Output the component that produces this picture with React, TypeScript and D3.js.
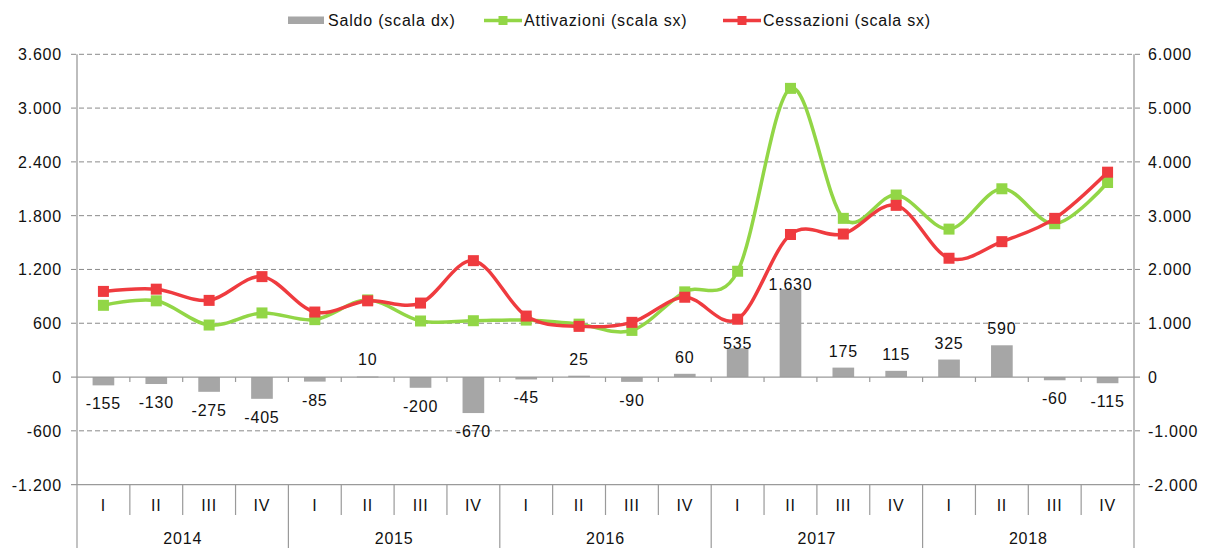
import { useEffect, useRef } from 'react'
import * as d3 from 'd3'

const years = ['2014', '2015', '2016', '2017', '2018']
const quarters = ['I', 'II', 'III', 'IV']

const attivazioni = [800, 850, 580, 715, 640, 860, 625, 628, 635, 590, 520, 950, 1180, 3220, 1770, 2030, 1650, 2100, 1710, 2170]
const cessazioni = [955, 980, 855, 1120, 725, 850, 825, 1298, 680, 565, 610, 890, 645, 1590, 1595, 1915, 1325, 1510, 1770, 2285]
const saldo = [-155, -130, -275, -405, -85, 10, -200, -670, -45, 25, -90, 60, 535, 1630, 175, 115, 325, 590, -60, -115]

const leftTicks = [-1200, -600, 0, 600, 1200, 1800, 2400, 3000, 3600]
const rightTicks = [-2000, -1000, 0, 1000, 2000, 3000, 4000, 5000, 6000]

// labels that Excel had pulled down onto the bar top
const loweredLabels = new Set(['2017-I', '2017-II'])

const GREEN = '#92d646'
const RED = '#ef3b3f'
const BAR = '#a6a6a6'
const AXIS = '#9a9a9a'
const FONT = '"Liberation Sans", Arial, Helvetica, sans-serif'

const fmt = (v: number) => {
  const s = Math.abs(v).toString().replace(/\B(?=(\d{3})+(?!\d))/g, '.')
  return (v < 0 ? '-' : '') + s
}

export default function App() {
  const svgRef = useRef<SVGSVGElement>(null)

  useEffect(() => {
    document.body.style.margin = '0'
    if (!svgRef.current) return
    const svg = d3.select(svgRef.current)
    svg.selectAll('*').remove()

    const left = 77, right = 1134, top = 54.3, bottom = 484.6

    const keys = years.flatMap(y => quarters.map(q => `${y}-${q}`))
    const x = d3.scaleBand<string>().domain(keys).range([left, right])
    const bw = x.bandwidth()
    const cx = (k: string) => (x(k) ?? 0) + bw / 2

    const yL = d3.scaleLinear().domain([-1200, 3600]).range([bottom, top])
    const yR = d3.scaleLinear().domain([-2000, 6000]).range([bottom, top])

    const g = svg.append('g')

    // gridlines
    leftTicks.forEach(t => {
      if (t === 0 || t === -1200) return
      g.append('line')
        .attr('x1', left - 6).attr('x2', right + 6)
        .attr('y1', yL(t)).attr('y2', yL(t))
        .attr('stroke', '#8a8a8a').attr('stroke-width', 1)
        .attr('stroke-dasharray', '5,3')
    })

    // bars
    saldo.forEach((v, i) => {
      const k = keys[i]
      const y0 = yR(0), y1 = yR(v)
      g.append('rect')
        .attr('x', cx(k) - bw * 0.205)
        .attr('y', Math.min(y0, y1))
        .attr('width', bw * 0.41)
        .attr('height', Math.max(1, Math.abs(y1 - y0)))
        .attr('fill', BAR)
    })

    // zero line + category ticks
    g.append('line')
      .attr('x1', left - 6).attr('x2', right + 6)
      .attr('y1', yL(0)).attr('y2', yL(0))
      .attr('stroke', AXIS).attr('stroke-width', 1.3)
    keys.forEach((k, i) => {
      if (i === 0) return
      const xx = x(k) ?? 0
      g.append('line')
        .attr('x1', xx).attr('x2', xx)
        .attr('y1', yL(0)).attr('y2', yL(0) + 5)
        .attr('stroke', AXIS).attr('stroke-width', 1.2)
    })

    // bottom axis
    g.append('line')
      .attr('x1', left - 6).attr('x2', right + 6)
      .attr('y1', bottom).attr('y2', bottom)
      .attr('stroke', AXIS).attr('stroke-width', 1.3)
    keys.forEach((k, i) => {
      const xx = x(k) ?? 0
      const isYear = i % 4 === 0
      g.append('line')
        .attr('x1', xx).attr('x2', xx)
        .attr('y1', bottom).attr('y2', isYear ? 548 : 515)
        .attr('stroke', AXIS).attr('stroke-width', 1.2)
    })
    g.append('line')
      .attr('x1', right).attr('x2', right)
      .attr('y1', bottom).attr('y2', 548)
      .attr('stroke', AXIS).attr('stroke-width', 1.2)

    // vertical axes
    ;[left, right].forEach(xx => {
      g.append('line')
        .attr('x1', xx).attr('x2', xx)
        .attr('y1', top).attr('y2', bottom)
        .attr('stroke', AXIS).attr('stroke-width', 1.3)
    })

    // axis labels
    leftTicks.forEach(t => {
      g.append('text')
        .attr('x', 62).attr('y', yL(t) + 6)
        .attr('text-anchor', 'end')
        .text(fmt(t))
    })
    rightTicks.forEach(t => {
      g.append('text')
        .attr('x', 1148).attr('y', yR(t) + 6)
        .attr('text-anchor', 'start')
        .text(fmt(t))
    })
    keys.forEach((k, i) => {
      g.append('text')
        .attr('x', cx(k)).attr('y', 511)
        .attr('text-anchor', 'middle')
        .text(quarters[i % 4])
    })
    years.forEach((yr, j) => {
      const x0 = x(keys[j * 4]) ?? 0
      g.append('text')
        .attr('x', x0 + bw * 2).attr('y', 544)
        .attr('text-anchor', 'middle')
        .text(yr)
    })

    // lines
    const line = d3.line<number>()
      .x((_, i) => cx(keys[i]))
      .y(d => yL(d))
      .curve(d3.curveCardinal.tension(0))

    const drawSeries = (vals: number[], color: string) => {
      g.append('path')
        .attr('d', line(vals))
        .attr('fill', 'none')
        .attr('stroke', color)
        .attr('stroke-width', 3.5)
      vals.forEach((v, i) => {
        g.append('rect')
          .attr('x', cx(keys[i]) - 5.5).attr('y', yL(v) - 5.5)
          .attr('width', 11).attr('height', 11)
          .attr('fill', color)
      })
    }
    drawSeries(attivazioni, GREEN)
    drawSeries(cessazioni, RED)

    // data labels for saldo
    saldo.forEach((v, i) => {
      const k = keys[i]
      let yy: number
      if (loweredLabels.has(k)) yy = yR(v) + 1
      else if (v < 0) yy = yR(v) + 24
      else yy = yR(v) - 11
      g.append('text')
        .attr('x', cx(k)).attr('y', yy)
        .attr('text-anchor', 'middle')
        .text(fmt(v))
    })

    // legend
    const lg = svg.append('g')
    lg.append('rect')
      .attr('x', 288).attr('y', 16.5).attr('width', 36).attr('height', 7.5)
      .attr('fill', BAR)
    lg.append('text').attr('x', 328).attr('y', 26).text('Saldo (scala dx)')

    const legendLine = (x0: number, color: string, label: string) => {
      lg.append('line')
        .attr('x1', x0).attr('x2', x0 + 38)
        .attr('y1', 20.5).attr('y2', 20.5)
        .attr('stroke', color).attr('stroke-width', 3.5)
      lg.append('rect')
        .attr('x', x0 + 19 - 4.5).attr('y', 16)
        .attr('width', 9).attr('height', 9)
        .attr('fill', color)
      lg.append('text').attr('x', x0 + 40).attr('y', 26).text(label)
    }
    legendLine(484, GREEN, 'Attivazioni (scala sx)')
    legendLine(723, RED, 'Cessazioni (scala sx)')

    svg.selectAll('text')
      .style('font-family', FONT)
      .style('font-size', '16px')
      .style('letter-spacing', '0.8px')
      .attr('fill', '#111')
  }, [])

  return (
    <svg
      ref={svgRef}
      width={1205}
      height={548}
      style={{ display: 'block', background: '#fff' }}
    />
  )
}
